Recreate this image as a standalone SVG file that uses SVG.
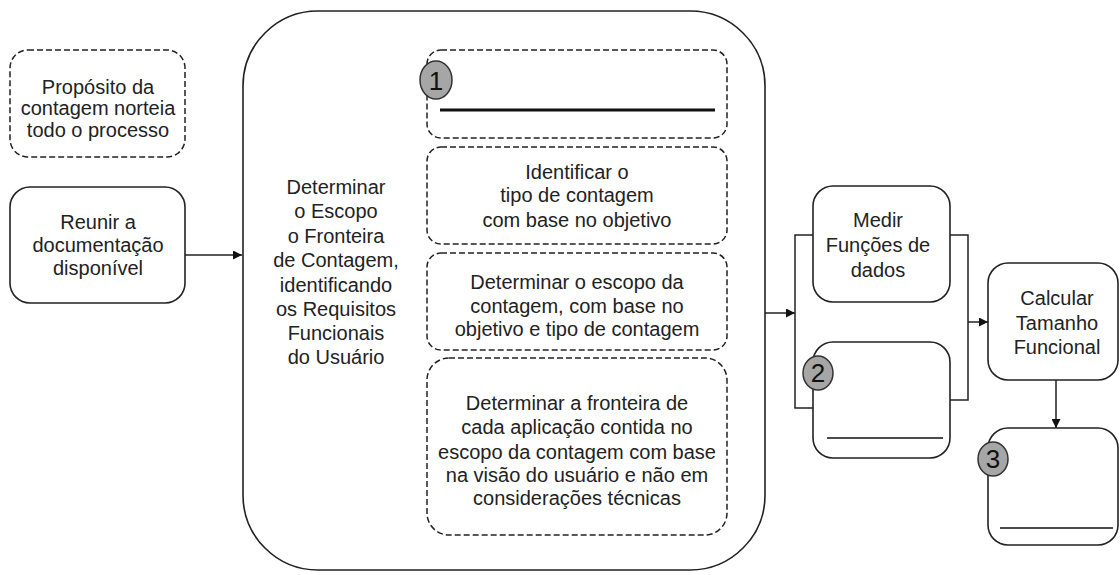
<svg xmlns="http://www.w3.org/2000/svg" width="1120" height="575" viewBox="0 0 1120 575">
<style>
text{font-family:"Liberation Sans",Arial,sans-serif;font-size:20px;fill:#222;text-anchor:middle}
.box{fill:#fff;stroke:#222;stroke-width:1.6}
.dash{fill:#fff;stroke:#222;stroke-width:1.5;stroke-dasharray:6 3}
.conn{fill:none;stroke:#222;stroke-width:1.5}
.badge{fill:#a6a6a6;stroke:#333;stroke-width:1.5}
.num{font-size:26px;fill:#111}
.rule{stroke:#111;stroke-width:1.5}
</style>
<defs>
<marker id="ah" viewBox="0 0 10 10" refX="10" refY="5" markerWidth="9" markerHeight="9" markerUnits="userSpaceOnUse" orient="auto"><path d="M0,0 L10,5 L0,10 z" fill="#111"/></marker>
</defs>
<rect width="1120" height="575" fill="#fff"/>
<g id="proposito">
<rect class="dash" x="10" y="50" width="175" height="107" rx="18"/>
<text x="98" y="94">Propósito da</text>
<text x="98" y="115">contagem norteia</text>
<text x="98" y="137">todo o processo</text>
</g>
<g id="reunir">
<rect class="box" x="10" y="187" width="175" height="116" rx="20"/>
<text x="98" y="229">Reunir a</text>
<text x="98" y="252">documentação</text>
<text x="98" y="275">disponível</text>
</g>
<g id="escopo">
<rect class="box" x="243" y="11" width="522" height="559" rx="75"/>
<text x="336" y="194">Determinar</text>
<text x="336" y="218">o Escopo</text>
<text x="336" y="243">o Fronteira</text>
<text x="336" y="267">de Contagem,</text>
<text x="336" y="292">identificando</text>
<text x="336" y="316">os Requisitos</text>
<text x="336" y="340">Funcionais</text>
<text x="336" y="364">do Usuário</text>
</g>
<g id="passo1">
<rect class="dash" x="427" y="50" width="300" height="88" rx="14"/>
<line x1="440" y1="110" x2="715" y2="110" stroke="#111" stroke-width="3"/>
<ellipse class="badge" cx="436" cy="80" rx="16" ry="19"/>
<text class="num" x="436" y="90">1</text>
</g>
<g id="identificar">
<rect class="dash" x="427" y="147" width="300" height="97" rx="14"/>
<text x="577" y="179">Identificar o</text>
<text x="577" y="202">tipo de contagem</text>
<text x="577" y="227">com base no objetivo</text>
</g>
<g id="determinar-escopo">
<rect class="dash" x="427" y="253" width="300" height="97" rx="14"/>
<text x="577" y="289">Determinar o escopo da</text>
<text x="577" y="313">contagem, com base no</text>
<text x="577" y="336">objetivo e tipo de contagem</text>
</g>
<g id="determinar-fronteira">
<rect class="dash" x="427" y="358" width="300" height="177" rx="22"/>
<text x="577" y="410">Determinar a fronteira de</text>
<text x="577" y="434">cada aplicação contida no</text>
<text x="577" y="459">escopo da contagem com base</text>
<text x="577" y="482">na visão do usuário e não em</text>
<text x="577" y="505">considerações técnicas</text>
</g>
<g id="medir">
<rect class="box" x="813" y="186" width="137" height="116" rx="20"/>
<text x="878" y="227">Medir</text>
<text x="878" y="252">Funções de</text>
<text x="878" y="277">dados</text>
</g>
<g id="passo2">
<rect class="box" x="813" y="342" width="137" height="116" rx="20"/>
<line class="rule" x1="827" y1="438" x2="943" y2="438"/>
<ellipse class="badge" cx="818" cy="373" rx="15" ry="17"/>
<text class="num" x="818" y="382">2</text>
</g>
<g id="calcular">
<rect class="box" x="988" y="263" width="130" height="117" rx="20"/>
<text x="1057" y="305">Calcular</text>
<text x="1057" y="330">Tamanho</text>
<text x="1057" y="354">Funcional</text>
</g>
<g id="passo3">
<rect class="box" x="988" y="428" width="130" height="117" rx="20"/>
<line class="rule" x1="1000" y1="528" x2="1113" y2="528"/>
<ellipse class="badge" cx="993" cy="459" rx="15" ry="17"/>
<text class="num" x="993" y="468">3</text>
</g>
<g id="connectors">
<line class="conn" x1="185" y1="255" x2="242" y2="255" marker-end="url(#ah)"/>
<line class="conn" x1="765" y1="313" x2="795" y2="313" marker-end="url(#ah)"/>
<path class="conn" d="M813,235 H795 V408 H813"/>
<path class="conn" d="M950,235 H968 V400 H950"/>
<line class="conn" x1="968" y1="322" x2="988" y2="322" marker-end="url(#ah)"/>
<line class="conn" x1="1056" y1="380" x2="1056" y2="428" marker-end="url(#ah)"/>
</g>
</svg>
